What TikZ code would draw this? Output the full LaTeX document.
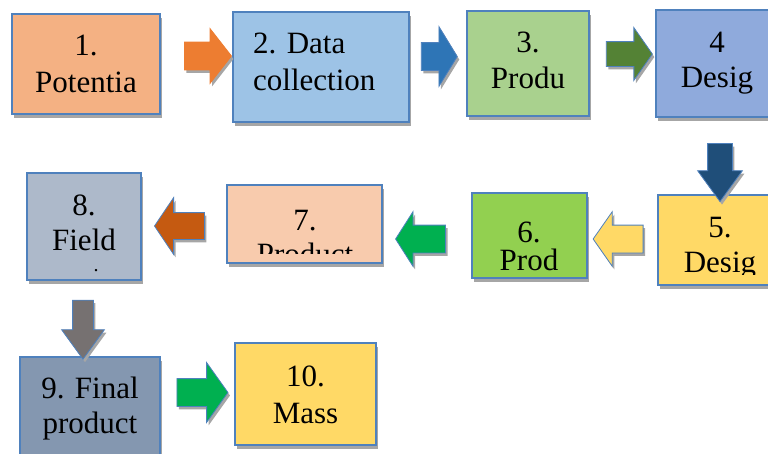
\documentclass[tikz,border=0pt]{standalone}
\usepackage{fontspec}
\setmainfont{Liberation Serif}
\newfontfamily\tnr{Liberation Serif}
\usetikzlibrary{shapes.arrows,shadows}
\definecolor{bordc}{HTML}{4F81BD}
\definecolor{shadc}{HTML}{A6A6A6}
\definecolor{c1}{HTML}{F4B183}
\definecolor{c2}{HTML}{9DC3E6}
\definecolor{c3}{HTML}{A9D18E}
\definecolor{c4}{HTML}{8FAADC}
\definecolor{c5}{HTML}{FFD966}
\definecolor{c6}{HTML}{92D050}
\definecolor{c7}{HTML}{F8CBAD}
\definecolor{c8}{HTML}{ADB9CA}
\definecolor{c9}{HTML}{8497B0}
\definecolor{c10}{HTML}{FFD966}
\definecolor{ar1}{HTML}{ED7D31}
\definecolor{ar2}{HTML}{2E75B6}
\definecolor{ar3}{HTML}{548235}
\definecolor{ar4}{HTML}{1F4E79}
\definecolor{ar5}{HTML}{FFD966}
\definecolor{ar6}{HTML}{00B050}
\definecolor{ar7}{HTML}{C55A11}
\definecolor{ar8}{HTML}{767171}
\definecolor{ar9}{HTML}{00B050}
\tikzset{
  boxst/.style={rectangle, draw=bordc, line width=1.2pt, inner sep=0pt,
    drop shadow={shadow xshift=2pt, shadow yshift=-4pt, fill=shadc, opacity=1}},
  lbl/.style={anchor=base, inner sep=0pt, font=\tnr\fontsize{31}{36}\selectfont},
  barrow/.style={single arrow, draw=bordc, line width=0.8pt, inner xsep=0pt,
    text height=0pt, text depth=0pt, text width=0pt, single arrow head indent=0pt,
    drop shadow={shadow xshift=2pt, shadow yshift=-3pt, fill=shadc, opacity=1}},
}
\begin{document}
\begin{tikzpicture}[x=1pt,y=-1pt]
\useasboundingbox (0,0) rectangle (768,453);
\clip (0,0) rectangle (768,453);
% boxes
\node[boxst, fill=c1, minimum width=148pt, minimum height=100pt] (b1) at (86,64) {};
\node[boxst, fill=c2, minimum width=176pt, minimum height=110pt] (b2) at (321,67) {};
\node[boxst, fill=c3, minimum width=122pt, minimum height=105pt] (b3) at (528,63.5) {};
\node[boxst, fill=c4, minimum width=122pt, minimum height=107pt] (b4) at (717,63.5) {};
\node[boxst, fill=c5, minimum width=120pt, minimum height=90pt] (b5) at (718,240) {};
\node[boxst, fill=c6, minimum width=115pt, minimum height=85pt] (b6) at (529.5,235.5) {};
\node[boxst, fill=c7, minimum width=155pt, minimum height=78pt] (b7) at (304.5,224) {};
\node[boxst, fill=c8, minimum width=114pt, minimum height=107pt] (b8) at (84,226.5) {};
\node[boxst, fill=c9, minimum width=140pt, minimum height=113pt] (b9) at (90,413.5) {};
\node[boxst, fill=c10, minimum width=141pt, minimum height=102pt] (b10) at (305.5,394) {};
% texts
\node[lbl] (t1a) at (86,55) {1.};
\node[lbl] (t1b) at (86,92) {Potentia};
\node[lbl, anchor=base west] (t2a) at (253,53) {2. Data};
\node[lbl, anchor=base west] (t2b) at (253,90) {collection};
\node[lbl] (t3a) at (528,52) {3.};
\node[lbl] (t3b) at (528,88) {Produ};
\node[lbl] (t4a) at (717,52) {4};
\node[lbl] (t4b) at (717,87) {Desig};
\begin{scope}
\clip (b5.north west) rectangle (778,274);
\node[lbl] (t5a) at (720,237) {5.};
\node[lbl] (t5b) at (720,272) {Desig};
\end{scope}
\node[lbl] (t6a) at (529,242) {6.};
\node[lbl] (t6b) at (529,270) {Prod};
\begin{scope}
\clip (b7.north west) rectangle (382,253);
\node[lbl] (t7a) at (305,230) {7.};
\node[lbl] (t7b) at (305,264) {Product};
\end{scope}
\node[lbl] (t8a) at (84,215) {8.};
\node[lbl] (t8b) at (84,250) {Field};
\node[lbl, font=\tnr\fontsize{20}{24}\selectfont] (t8c) at (96,271) {.};
\node[lbl] (t9a) at (90,398) {9. Final};
\node[lbl] (t9b) at (90,433) {product};
\node[lbl] (t10a) at (305.5,386) {10.};
\node[lbl] (t10b) at (305.5,423) {Mass};
% block arrows
\node[barrow, fill=ar1, draw=ar1, minimum height=47pt, inner ysep=13.5pt, single arrow head extend=13.5pt, single arrow tip angle=104] (a1) at (202.5,56) {};
\node[barrow, fill=ar2, minimum height=36pt, inner ysep=13.5pt, single arrow head extend=16pt, single arrow tip angle=117] (a2) at (435,56.5) {};
\node[barrow, fill=ar3, minimum height=46pt, inner ysep=12pt, single arrow head extend=14pt, single arrow tip angle=110] (a3) at (625,54) {};
\node[barrow, fill=ar4, rotate=-90, minimum height=58pt, inner ysep=12pt, single arrow head extend=10pt, single arrow tip angle=72] (a4) at (720,164) {};
\node[barrow, fill=ar5, rotate=180, minimum height=50pt, inner ysep=13.5pt, single arrow head extend=13.5pt, single arrow tip angle=110] (a5) at (623,239) {};
\node[barrow, fill=ar6, rotate=180, minimum height=50pt, inner ysep=13.5pt, single arrow head extend=13.5pt, single arrow tip angle=115] (a6) at (425,239) {};
\node[barrow, fill=ar7, rotate=180, minimum height=50pt, inner ysep=13pt, single arrow head extend=15pt, single arrow tip angle=112] (a7) at (184,226) {};
\node[barrow, fill=ar8, rotate=-90, minimum height=59pt, inner ysep=10pt, single arrow head extend=11pt, single arrow tip angle=72] (a8) at (83,322.5) {};
\node[barrow, fill=ar9, minimum height=51pt, inner ysep=13.5pt, single arrow head extend=16pt, single arrow tip angle=109] (a9) at (197.5,392.5) {};
\end{tikzpicture}
\end{document}
